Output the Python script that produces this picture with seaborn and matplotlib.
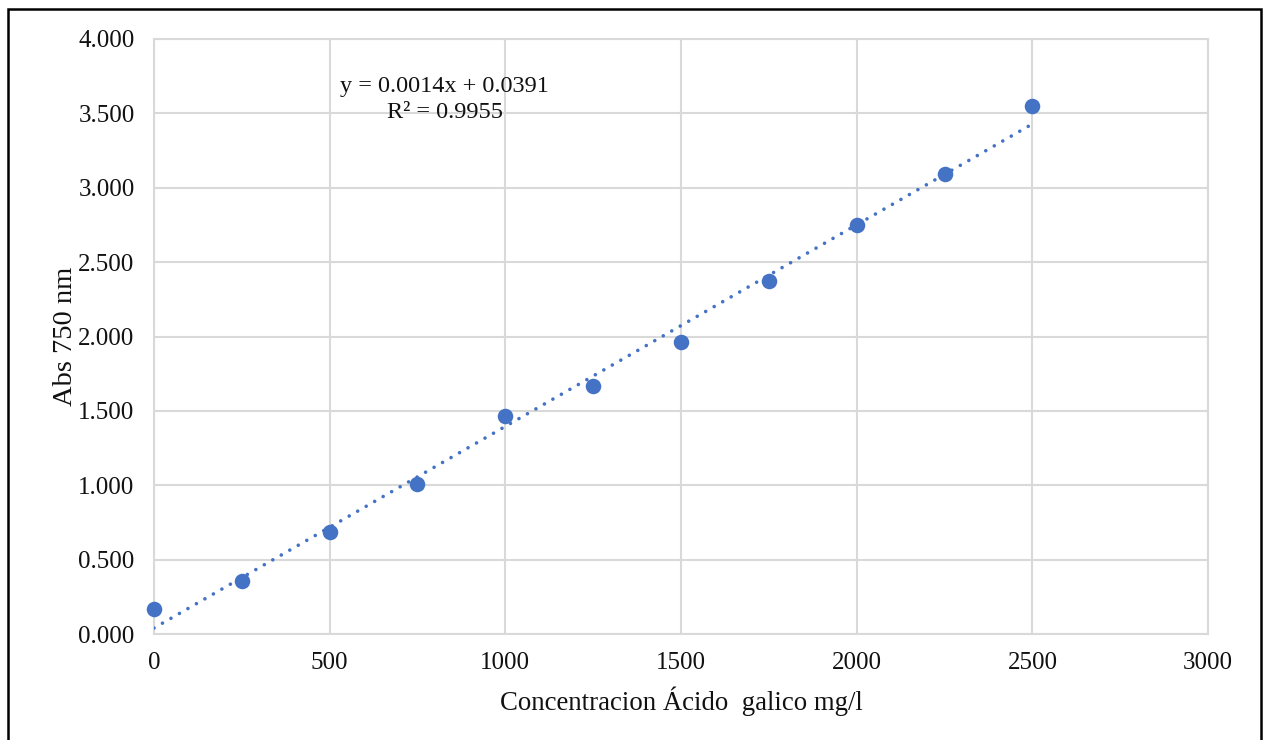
import matplotlib
matplotlib.use("Agg")
import matplotlib.pyplot as plt
import matplotlib.patches as patches
import seaborn as sns
import pandas as pd
from matplotlib.ticker import FuncFormatter, MultipleLocator

# data
conc = [0, 250, 500, 750, 1000, 1250, 1500, 1750, 2000, 2250, 2500]
absorb = [0.168, 0.356, 0.686, 1.008, 1.466, 1.667, 1.963, 2.373, 2.750, 3.092, 3.550]
eq_text = "y = 0.0014x + 0.0391\nR² = 0.9955"

df = pd.DataFrame({"conc": conc, "abs": absorb})

sns.set_style("white")
plt.rcParams["font.family"] = ["Liberation Serif", "DejaVu Serif"]

blue = "#4472C4"
grid_c = "#d9d9d9"

fig = plt.figure(figsize=(12.63, 7.4), dpi=100)
ax = fig.add_axes([0.1219, 0.1432, 0.8346, 0.8041])

# linear trendline
sns.regplot(data=df, x="conc", y="abs", ax=ax, scatter=False, ci=None,
            line_kws={"color": blue, "lw": 2.6, "linestyle": (0, (0.01, 2.7)),
                      "dash_capstyle": "round", "zorder": 3})

sns.scatterplot(data=df, x="conc", y="abs", ax=ax, color=blue, s=125,
                edgecolor=blue, linewidth=0, zorder=4, clip_on=False)

ax.set_xlim(0, 3000)
ax.set_ylim(0, 4.0)
ax.xaxis.set_major_locator(MultipleLocator(500))
ax.yaxis.set_major_locator(MultipleLocator(0.5))
ax.yaxis.set_major_formatter(FuncFormatter(lambda v, p: f"{v:.3f}"))
ax.xaxis.set_major_formatter(FuncFormatter(lambda v, p: f"{v:.0f}"))

ax.grid(True, color=grid_c, lw=1.5)
ax.set_axisbelow(True)
for sp in ax.spines.values():
    sp.set_color(grid_c)
    sp.set_linewidth(1.5)

ax.tick_params(axis="both", length=0, labelsize=18, colors="#111111")
ax.tick_params(axis="y", pad=14)
ax.tick_params(axis="x", pad=13)

ax.set_xlabel("Concentracion Ácido  galico mg/l", fontsize=19.3, labelpad=9, color="#111111")
ax.set_ylabel("Abs 750 nm", fontsize=20.5, labelpad=0, color="#111111")

ax.text(828, 3.595, eq_text, ha="center", va="center", multialignment="center",
        fontsize=17.5, linespacing=1.3, color="#111111")

# outer chart border
fig.patches.append(patches.Rectangle((0.0063, -0.02), 0.992, 1.0078,
                                     transform=fig.transFigure, fill=False,
                                     edgecolor="black", lw=1.8))

fig.savefig("out.png", dpi=100)
